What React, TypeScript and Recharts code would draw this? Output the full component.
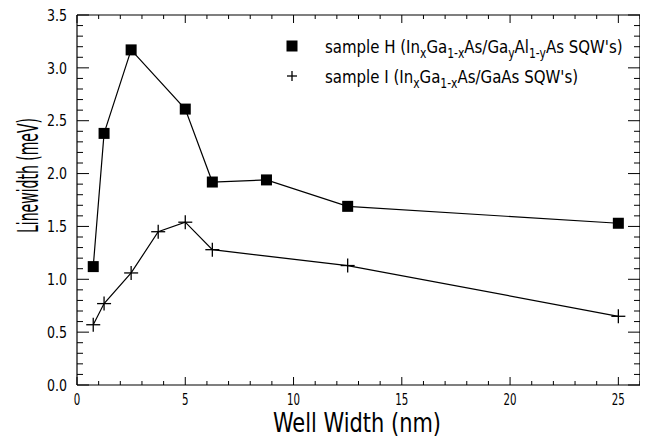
import React from "react";
import { LineChart, Line, XAxis, YAxis, Legend } from "recharts";

const hX = [0.75, 1.25, 2.5, 5, 6.25, 8.75, 12.5, 25];
const hY = [1.12, 2.38, 3.17, 2.61, 1.92, 1.94, 1.69, 1.53];
const iX = [0.75, 1.25, 2.5, 3.75, 5, 6.25, 12.5, 25];
const iY = [0.57, 0.77, 1.06, 1.45, 1.54, 1.28, 1.13, 0.65];

const xTicks = Array.from({ length: 27 }, (_, i) => i);
const xMajorTicks = [0, 5, 10, 15, 20, 25];
const yTicks = Array.from({ length: 36 }, (_, i) => i / 10);
const yMajorTicks = [0, 0.5, 1, 1.5, 2, 2.5, 3, 3.5];

const hData = hX.map((x, k) => ({ x, y: hY[k] }));
const iData = iX.map((x, k) => ({ x, y: iY[k] }));

const FONT = "'DejaVu Sans Condensed', 'Liberation Sans Narrow', 'DejaVu Sans', sans-serif";

const isMajorY = (v: number) => yMajorTicks.some((m) => Math.abs(m - v) < 1e-6);
const isMajorX = (v: number) => xMajorTicks.includes(v);

const LeftTick = (props: any) => {
  const { x, y, payload } = props;
  const v = payload.value;
  const major = isMajorY(v);
  return (
    <g>
      <line x1={x} x2={x + (major ? 12 : 6)} y1={y} y2={y} stroke="#000" strokeWidth={1} />
      {major && (
        <text
          x={x - 30}
          y={y}
          dy="0.36em"
          textAnchor="start"
          fontFamily={FONT}
          fontSize={16}
          fill="#000"
          textLength={20}
          lengthAdjust="spacingAndGlyphs"
        >
          {v.toFixed(1)}
        </text>
      )}
    </g>
  );
};

const RightTick = (props: any) => {
  const { x, y, payload } = props;
  const major = isMajorY(payload.value);
  return <line x1={x} x2={x - (major ? 12 : 6)} y1={y} y2={y} stroke="#000" strokeWidth={1} />;
};

const BottomTick = (props: any) => {
  const { x, y, payload } = props;
  const v = payload.value;
  const major = isMajorX(v);
  const s = String(v);
  const w = 6.5 * s.length;
  return (
    <g>
      <line x1={x} x2={x} y1={y} y2={y - (major ? 8 : 4)} stroke="#000" strokeWidth={1} />
      {major && (
        <text
          x={x - w / 2}
          y={y + 20}
          textAnchor="start"
          fontFamily={FONT}
          fontSize={16}
          fill="#000"
          textLength={w}
          lengthAdjust="spacingAndGlyphs"
        >
          {s}
        </text>
      )}
    </g>
  );
};

const TopTick = (props: any) => {
  const { x, y, payload } = props;
  const major = isMajorX(payload.value);
  return <line x1={x} x2={x} y1={y} y2={y + (major ? 8 : 4)} stroke="#000" strokeWidth={1} />;
};

const SquareDot = (props: any) => {
  const { cx, cy } = props;
  if (cx == null || cy == null) return null;
  return <rect x={cx - 5.5} y={cy - 5.5} width={11} height={11} fill="#000" />;
};

const PlusDot = (props: any) => {
  const { cx, cy } = props;
  if (cx == null || cy == null) return null;
  return (
    <g stroke="#000" strokeWidth={1.3}>
      <line x1={cx - 7} x2={cx + 7} y1={cy} y2={cy} />
      <line x1={cx} x2={cx} y1={cy - 7} y2={cy + 7} />
    </g>
  );
};

const subStyle: React.CSSProperties = { fontSize: "0.72em", verticalAlign: "-0.35em", lineHeight: 0 };
const textStyle: React.CSSProperties = {
  marginLeft: 21,
  whiteSpace: "nowrap",
  display: "inline-block",
  transform: "scaleX(0.9)",
  transformOrigin: "left center",
};

const renderLegend = () => (
  <div style={{ fontFamily: FONT, fontSize: 18.5, color: "#000" }}>
    <div style={{ display: "flex", alignItems: "center", height: 30 }}>
      <svg width={24} height={24} style={{ flex: "none" }}>
        <rect x={6.5} y={6.5} width={11} height={11} fill="#000" />
      </svg>
      <span style={textStyle}>
        sample H (In<sub style={subStyle}>x</sub>Ga<sub style={subStyle}>1-x</sub>As/Ga<sub style={subStyle}>y</sub>Al
        <sub style={subStyle}>1-y</sub>As SQW's)
      </span>
    </div>
    <div style={{ display: "flex", alignItems: "center", height: 30 }}>
      <svg width={24} height={24} style={{ flex: "none" }}>
        <g stroke="#000" strokeWidth={1.3}>
          <line x1={7} x2={17} y1={12} y2={12} />
          <line x1={12} x2={12} y1={7} y2={17} />
        </g>
      </svg>
      <span style={textStyle}>
        sample I (In<sub style={subStyle}>x</sub>Ga<sub style={subStyle}>1-x</sub>As/GaAs SQW's)
      </span>
    </div>
  </div>
);

const renderYLabel = () => (
  <g transform="translate(38 233) rotate(-90)">
    <text
      x={0}
      y={0}
      textAnchor="start"
      fontFamily={FONT}
      fontSize={29}
      fill="#000"
      textLength={115}
      lengthAdjust="spacingAndGlyphs"
    >
      Linewidth (meV)
    </text>
  </g>
);

const renderXLabel = () => (
  <text
    x={273}
    y={432}
    textAnchor="start"
    fontFamily={FONT}
    fontSize={26}
    fill="#000"
    textLength={168}
    lengthAdjust="spacingAndGlyphs"
  >
    Well Width (nm)
  </text>
);

export default function App() {
  return (
    <div style={{ margin: "-8px 0 0 -8px", width: 648, height: 440, background: "#fff" }}>
      <LineChart width={648} height={440} margin={{ top: 14, right: 7, bottom: 0, left: 0 }}>
        <XAxis
          xAxisId="b"
          type="number"
          dataKey="x"
          domain={[0, 26]}
          ticks={xTicks}
          interval={0}
          orientation="bottom"
          height={55}
          tickSize={0}
          tickMargin={0}
          tickLine={false}
          axisLine={{ stroke: "#000", strokeWidth: 1.2 }}
          tick={<BottomTick />}
          label={renderXLabel}
          allowDataOverflow
        />
        <XAxis
          xAxisId="t"
          type="number"
          dataKey="x"
          domain={[0, 26]}
          ticks={xTicks}
          interval={0}
          orientation="top"
          height={1}
          tickSize={0}
          tickMargin={0}
          tickLine={false}
          axisLine={{ stroke: "#000", strokeWidth: 1.2 }}
          tick={<TopTick />}
          allowDataOverflow
        />
        <YAxis
          yAxisId="l"
          type="number"
          domain={[0, 3.5]}
          ticks={yTicks}
          interval={0}
          orientation="left"
          width={77}
          tickSize={0}
          tickMargin={0}
          tickLine={false}
          axisLine={{ stroke: "#000", strokeWidth: 1.2 }}
          tick={<LeftTick />}
          label={renderYLabel}
          allowDataOverflow
        />
        <YAxis
          yAxisId="r"
          type="number"
          domain={[0, 3.5]}
          ticks={yTicks}
          interval={0}
          orientation="right"
          width={1}
          tickSize={0}
          tickMargin={0}
          tickLine={false}
          axisLine={{ stroke: "#000", strokeWidth: 1.2 }}
          tick={<RightTick />}
          allowDataOverflow
        />
        <Legend
          layout="horizontal"
          verticalAlign="middle"
          align="center"
          content={renderLegend}
          wrapperStyle={{ position: "absolute", left: 280, top: 31, width: 360 }}
        />
        <Line
          xAxisId="b"
          yAxisId="l"
          data={hData}
          dataKey="y"
          name="sample H"
          stroke="#000"
          strokeWidth={1.2}
          dot={<SquareDot />}
          activeDot={false}
          isAnimationActive={false}
        />
        <Line
          xAxisId="b"
          yAxisId="l"
          data={iData}
          dataKey="y"
          name="sample I"
          stroke="#000"
          strokeWidth={1.2}
          dot={<PlusDot />}
          activeDot={false}
          isAnimationActive={false}
        />
      </LineChart>
    </div>
  );
}
